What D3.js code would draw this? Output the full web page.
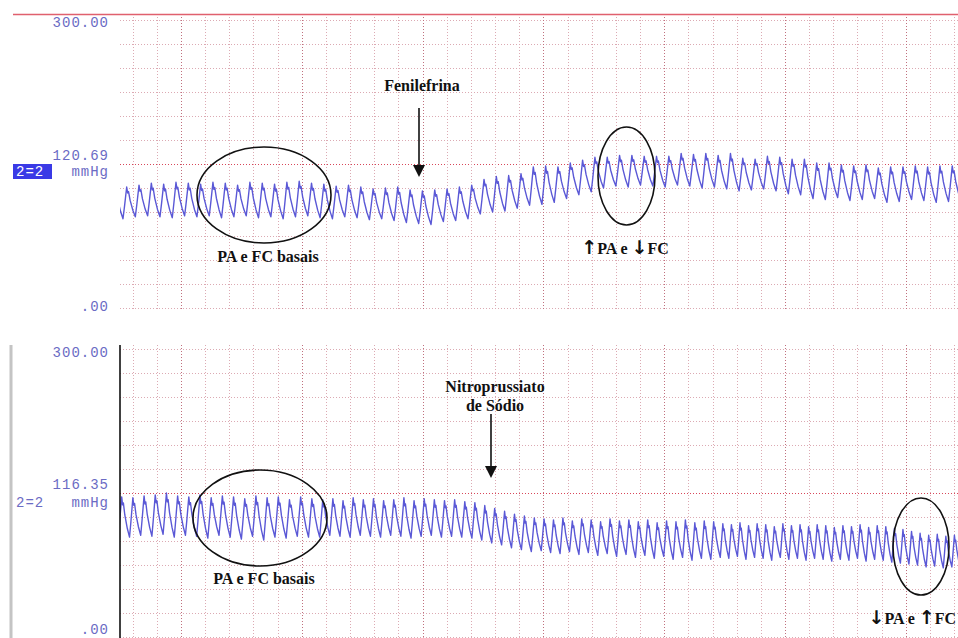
<!DOCTYPE html>
<html>
<head>
<meta charset="utf-8">
<script src="https://cdn.jsdelivr.net/npm/d3@7"></script>
<style>
  html, body { margin: 0; padding: 0; background: #ffffff; }
  svg { display: block; }
</style>
</head>
<body>
<svg id="chart" width="958" height="638"></svg>
<script>
// ---- Pressure traces: one entry per heart beat (interval in grid divisions, mmHg) ----
const topOnset = -0.911;
const topRR = [
  0.51,0.51,0.51,0.51,0.51,0.51,0.51,0.51,0.51,0.51,
  0.51,0.51,0.51,0.51,0.51,0.51,0.51,0.51,0.51,0.51,
  0.51,0.51,0.51,0.51,0.51,0.51,0.51,0.51,0.51,0.51,
  0.51,0.51,0.51,0.51,0.51,0.51,0.51,0.51,0.51,0.51,
  0.51,0.51,0.51,0.51,0.51,0.51,0.51,0.51,0.51,0.51,
  0.51,0.51,0.51,0.51,0.51,0.51,0.51,0.51,0.51,0.51,
  0.51,0.51,0.51,0.51,0.51,0.51,0.51,0.51,0.51,0.51
];
const topSys = [
  128,126,128,130,129,131,130,129,131,130,
  128,131,130,129,131,132,130,129,127,128,
  126,124,125,126,123,122,123,124,126,128,
  134,137,138,140,147,148,147,151,154,157,
  157,159,159,158,158,158,161,160,161,159,
  161,156,155,158,157,155,155,151,151,149,
  148,149,146,147,147,148,147,148,148,146
];
const topDia = [
  96,93,95,96,95,94,96,95,96,94,
  95,96,94,95,93,95,96,94,93,95,
  94,92,93,91,89,88,87,90,91,93,
  98,100,101,104,107,108,110,114,118,121,
  125,127,126,128,127,126,128,127,125,126,
  124,122,123,124,122,119,118,114,113,115,
  112,113,114,110,111,113,112,110,111,112
];

const botOnset = -1.057;
const botRR = [
  // basal rhythm
  0.463,0.463,0.463,0.463,0.463,0.463,0.463,0.463,0.463,0.463,
  0.463,0.463,0.463,0.463,0.463,0.463,0.463,0.463,0.463,
  0.42,0.42,0.42,0.42,0.42,0.42,0.42,0.42,0.42,0.42,
  0.42,0.42,0.42,0.42,0.42,
  // after the infusion
  0.41,0.41,0.41,0.41,0.41,0.41,0.41,
  0.39,0.39,0.39,0.39,0.39,0.39,0.39,0.39,0.39,0.39,
  0.39,0.39,0.39,0.39,0.39,0.39,0.39,0.39,0.39,
  0.355,0.355,0.355,0.355,0.355,0.355,0.355,0.355,0.355,0.355,
  0.355,0.355,0.355,0.355,0.355,0.355,0.355,0.355,0.355,0.355,
  0.355,0.355,0.355,0.355,0.355,0.355,0.355,0.355,0.355
];
const botSys = [
  144,146,145,147,148,150,147,146,148,145,147,146,144,147,145,146,143,146,144,
  143,144,142,145,143,144,142,143,145,142,144,143,142,143,141,
  140,137,134,131,128,126,124,
  123,122,124,121,123,122,120,123,121,122,120,122,119,121,120,122,119,121,120,
  118,117,119,116,118,117,115,118,116,117,115,117,116,114,116,115,117,114,116,115,
  113,112,110,108,106,107,105,106,105
];
const botDia = [
  107,105,104,106,105,107,104,106,105,103,106,104,102,105,101,104,103,105,104,
  104,106,105,104,106,105,104,106,105,103,105,106,104,105,104,
  103,101,98,96,93,91,89,
  90,88,87,89,86,88,85,87,84,86,83,85,82,84,81,83,80,82,81,
  83,82,84,81,83,82,80,83,81,82,80,82,81,79,81,80,82,79,81,80,
  78,77,76,75,73,74,72,73,72
];

// contour of a single pressure pulse: [fraction of beat, fraction of pulse height]
const pulseShape = [[0,0],[0.12,0.38],[0.3,1],[0.38,0.8],[0.45,0.85],[0.58,0.55],[0.8,0.22],[1,0]];

// ---- Labels ----
const topScaleLabels = { max: "300.00", level: "120.69", unit: "mmHg", min: ".00", channel: "2=2" };
const botScaleLabels = { max: "300.00", level: "116.35", unit: "mmHg", min: ".00", channel: "2=2" };
const topNotes = { drug: ["Fenilefrina"], basal: "PA e FC basais", effect: ["\u2191", "PA e ", "\u2193", "FC"] };
const botNotes = { drug: ["Nitroprussiato", "de Sódio"], basal: "PA e FC basais", effect: ["\u2193", "PA e ", "\u2191", "FC"] };

// ---- Layout ----
const svg = d3.select("#chart");
const plotLeft = 120, plotRight = 958;
const x = d3.scaleLinear().domain([-0.525, 34.16]).range([plotLeft, plotRight]);
const panels = [
  { id: "top", yTop: 14, yBottom: 310, y: d3.scaleLinear().domain([0, 300]).range([308, 20]),
    onset: topOnset, rr: topRR, sys: topSys, dia: topDia, labels: topScaleLabels, notes: topNotes },
  { id: "bot", yTop: 345, yBottom: 638, y: d3.scaleLinear().domain([0, 300]).range([637, 349]),
    onset: botOnset, rr: botRR, sys: botSys, dia: botDia, labels: botScaleLabels, notes: botNotes }
];

const gridColor = "#dcaab3", majorGridColor = "#c0707e", levelColor = "#d8475a";
const traceColor = "#5a58d6", labelColor = "#6b6bc4";

function beatPoints(p) {
  const pts = [];
  let t = p.onset;
  p.rr.forEach((rr, i) => {
    const s = p.sys[i], d0 = p.dia[i];
    const d1 = i + 1 < p.dia.length ? p.dia[i + 1] : d0;
    const peakPhase = 0.3;
    pulseShape.forEach(([ph, h], k) => {
      if (k === pulseShape.length - 1) return; // next beat supplies its own onset
      const base = ph <= peakPhase ? d0 : d1;
      pts.push([t + ph * rr, base + h * (s - base)]);
    });
    t += rr;
  });
  return pts;
}

panels.forEach(p => {
  const g = svg.append("g").attr("class", "panel-" + p.id);

  g.append("clipPath").attr("id", "clip-" + p.id)
    .append("rect").attr("x", plotLeft).attr("y", p.yTop)
    .attr("width", plotRight - plotLeft).attr("height", p.yBottom - p.yTop);

  // horizontal grid (every 25 mmHg)
  const yTicks = d3.range(0, 301, 25);
  g.append("g").selectAll("line").data(yTicks).join("line")
    .attr("x1", plotLeft).attr("x2", plotRight)
    .attr("y1", d => p.y(d) + 0.5).attr("y2", d => p.y(d) + 0.5)
    .attr("stroke", d => d === 150 ? levelColor : gridColor)
    .attr("stroke-width", 1)
    .attr("stroke-dasharray", "1,2");

  // vertical grid (one line per division, every fifth darker)
  const xTicks = d3.range(0, 35);
  g.append("g").selectAll("line").data(xTicks).join("line")
    .attr("x1", d => Math.round(x(d)) + 0.5).attr("x2", d => Math.round(x(d)) + 0.5)
    .attr("y1", p.yTop).attr("y2", p.yBottom)
    .attr("stroke", d => (d % 5 === 2) ? majorGridColor : gridColor)
    .attr("stroke-width", 1)
    .attr("stroke-dasharray", "1,2");

  // pressure trace
  const line = d3.line().x(d => x(d[0])).y(d => p.y(d[1]));
  g.append("path")
    .attr("clip-path", "url(#clip-" + p.id + ")")
    .attr("d", line(beatPoints(p)))
    .attr("fill", "none")
    .attr("stroke", traceColor)
    .attr("stroke-width", 1.4)
    .attr("stroke-linejoin", "round");
});

// ---- frame details ----
svg.append("line").attr("x1", 13).attr("x2", 958).attr("y1", 14.5).attr("y2", 14.5)
  .attr("stroke", "#e0606e").attr("stroke-width", 1.5);
svg.append("line").attr("x1", 11).attr("x2", 11).attr("y1", 345).attr("y2", 638)
  .attr("stroke", "#c4c4c4").attr("stroke-width", 3);
svg.append("line").attr("x1", 120).attr("x2", 120).attr("y1", 345).attr("y2", 638)
  .attr("stroke", "#111").attr("stroke-width", 1.6);

// ---- scale labels ----
function scaleLabels(p, pos) {
  const g = svg.append("g")
    .attr("font-family", "'Liberation Mono', 'DejaVu Sans Mono', monospace")
    .attr("font-size", 14).attr("letter-spacing", 1).attr("fill", labelColor);
  g.append("text").attr("x", 109).attr("y", pos.max).attr("text-anchor", "end").text(p.labels.max);
  g.append("text").attr("x", 109).attr("y", pos.level).attr("text-anchor", "end").text(p.labels.level);
  g.append("text").attr("x", 109).attr("y", pos.unit).attr("text-anchor", "end").text(p.labels.unit);
  g.append("text").attr("x", 109).attr("y", pos.min).attr("text-anchor", "end").text(p.labels.min);
  if (pos.boxed) {
    g.append("rect").attr("x", 13).attr("y", pos.chan - 12).attr("width", 39).attr("height", 15)
      .attr("fill", "#3a3ae6");
    g.append("text").attr("x", 16).attr("y", pos.chan).attr("fill", "#ffffff").text(p.labels.channel);
  } else {
    g.append("text").attr("x", 16).attr("y", pos.chan).text(p.labels.channel);
  }
}
scaleLabels(panels[0], { max: 27, level: 160, unit: 176, min: 311, chan: 176, boxed: true });
scaleLabels(panels[1], { max: 357, level: 489, unit: 507, min: 634, chan: 507, boxed: false });

// ---- annotations ----
const notes = svg.append("g")
  .attr("font-family", "'Liberation Serif', 'Times New Roman', serif")
  .attr("font-weight", "bold").attr("font-size", 16).attr("fill", "#111");

function arrow(xc, y0, y1) {
  notes.append("line").attr("x1", xc).attr("x2", xc).attr("y1", y0).attr("y2", y1 - 10)
    .attr("stroke", "#111").attr("stroke-width", 1.6);
  notes.append("path")
    .attr("d", d3.line()([[xc - 6, y1 - 12], [xc + 6, y1 - 12], [xc, y1]]) + "Z")
    .attr("fill", "#111");
}
function ellipse(cx, cy, rx, ry) {
  notes.append("ellipse").attr("cx", cx).attr("cy", cy).attr("rx", rx).attr("ry", ry)
    .attr("fill", "none").attr("stroke", "#111").attr("stroke-width", 1.6);
}
// text with tall arrow glyphs
function effectText(parts, xPos, yPos, anchor) {
  const t = notes.append("text").attr("x", xPos).attr("y", yPos).attr("text-anchor", anchor);
  parts.forEach(s => {
    const isArrow = s === "\u2191" || s === "\u2193";
    t.append("tspan")
      .attr("font-family", isArrow ? "'DejaVu Sans', sans-serif" : null)
      .attr("font-size", isArrow ? 19 : null)
      .text(s);
  });
}

// upper recording
notes.append("text").attr("x", 422).attr("y", 91).attr("text-anchor", "middle").text(topNotes.drug[0]);
arrow(419, 108, 177);
ellipse(264, 195, 67, 48);
notes.append("text").attr("x", 268).attr("y", 262).attr("text-anchor", "middle").text(topNotes.basal);
ellipse(626.5, 176, 28.5, 49);
effectText(topNotes.effect, 625, 254, "middle");

// lower recording
notes.append("text").attr("x", 495).attr("y", 392).attr("text-anchor", "middle").text(botNotes.drug[0]);
notes.append("text").attr("x", 495).attr("y", 411).attr("text-anchor", "middle").text(botNotes.drug[1]);
arrow(491, 414, 478);
ellipse(260, 518, 67, 48);
notes.append("text").attr("x", 264).attr("y", 584).attr("text-anchor", "middle").text(botNotes.basal);
ellipse(921, 546.5, 28, 48.5);
effectText(botNotes.effect, 956, 624, "end");
</script>
</body>
</html>
